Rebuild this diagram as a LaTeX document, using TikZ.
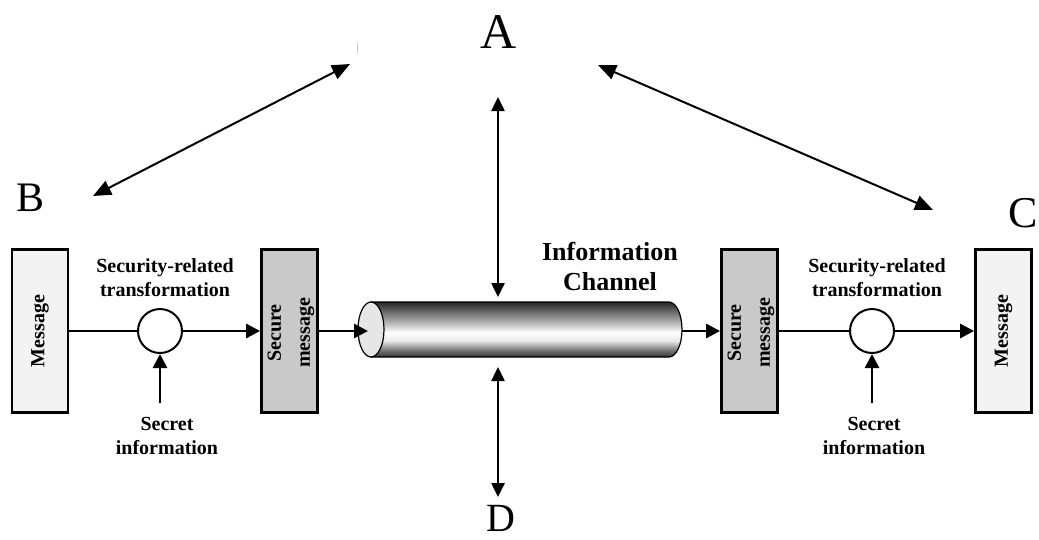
\documentclass[tikz,border=0pt]{standalone}
\usepackage{fontspec}
\setmainfont{Liberation Serif}
\usetikzlibrary{arrows.meta}
\definecolor{msglight}{HTML}{F3F3F3}
\definecolor{securegray}{HTML}{C9C9C9}
\definecolor{pipeface}{HTML}{E6E6E6}
% metallic pipe: stops live between 25bp (bottom) and 75bp (top)
\pgfdeclareverticalshading{pipe}{100bp}{%
  color(0bp)=(black!80); color(25bp)=(black!80); color(31bp)=(black!55);
  color(40bp)=(white!92!black); color(47.5bp)=(white); color(55bp)=(black!25);
  color(65bp)=(black!55); color(75bp)=(black!85); color(100bp)=(black!85)}
\begin{document}
\begin{tikzpicture}[x=1pt,y=-1pt,
  box/.style={draw, line width=2.8pt, minimum width=56pt, minimum height=163pt, inner sep=0},
  lightbox/.style={box, fill=msglight},
  darkbox/.style={box, fill=securegray},
  rot/.style={rotate=90, align=center, inner sep=0, font=\bfseries\fontsize{20}{29}\selectfont},
  op/.style={circle, draw, line width=2pt, minimum size=44pt, inner sep=0, fill=white},
  plain/.style={line width=2.8pt},
  flow/.style={plain, -{Triangle[length=14pt,width=14pt]}},
  caption/.style={align=center, inner sep=0, font=\bfseries\fontsize{20}{24}\selectfont},
  party/.style={inner sep=0, anchor=base},
  link/.style={line width=2pt, {Triangle[length=18pt,width=15pt]}-{Triangle[length=18pt,width=15pt]}},
  tap/.style={line width=2.5pt, {Triangle[length=14pt,width=13pt]}-{Triangle[length=14pt,width=13pt]}}]
\useasboundingbox (0,0) rectangle (1039,539);

% sender side
\node[lightbox] (mL) at (40,331) {};
\node[rot] (mLt) at (mL) {Message};
\node[op] (cL) at (160,331) {};
\node[darkbox] (sL) at (289.5,331) {};
\node[rot] (sLt) at (291,333) {Secure\\message};
\node[caption] (tL) at (165,278) {Security-related\\transformation};
\node[caption] (kL) at (167,436) {Secret\\information};
\coordinate (kLa) at (160,403);

% receiver side
\node[darkbox] (sR) at (749.5,331) {};
\node[rot] (sRt) at (751,333) {Secure\\message};
\node[op] (cR) at (872,331) {};
\node[lightbox] (mR) at (1003.5,331) {};
\node[rot] (mRt) at (mR) {Message};
\node[caption] (tR) at (877,278) {Security-related\\transformation};
\node[caption] (kR) at (874,436) {Secret\\information};
\coordinate (kRa) at (872,403);

% information channel (pipe)
\shade[shading=pipe, draw, line width=1.2pt]
  (371,302) -- (669,302) arc[start angle=-90, end angle=90, x radius=13, y radius=27.5]
  -- (371,357) -- cycle;
\draw[fill=pipeface, line width=1.2pt] (371,329.5) ellipse[x radius=13, y radius=27.5];
\coordinate (pipeIn) at (368,331);
\coordinate (pipeOut) at (682,331);
\node[caption, font=\bfseries\fontsize{26}{30}\selectfont] (ch) at (610,266) {Information\\Channel};

% flows
\draw[plain] (mL.east) -- (cL.west);
\draw[flow] (cL.east) -- (sL.west);
\draw[flow] (kLa) -- (cL.south);
\draw[flow] (sL.east) -- (pipeIn);
\draw[flow] (pipeOut) -- (sR.west);
\draw[plain] (sR.east) -- (cR.west);
\draw[flow] (cR.east) -- (mR.west);
\draw[flow] (kRa) -- (cR.south);

% parties
\node[party, font=\fontsize{50}{50}\selectfont] (A) at (499,48) {A};
\node[party, font=\fontsize{42}{42}\selectfont] (B) at (31,211) {B};
\node[party, anchor=base west, font=\fontsize{44}{44}\selectfont] (C) at (1008,227) {C};
\node[party, font=\fontsize{40}{40}\selectfont] (D) at (501,531) {D};

\coordinate (bEnd) at (93,196);
\coordinate (aLeft) at (350,64);
\coordinate (aRight) at (598,65);
\coordinate (cEnd) at (933,210);
\coordinate (aDown) at (498,97);
\coordinate (pipeTop) at (498,297);
\coordinate (pipeBot) at (498,367);
\coordinate (dUp) at (498,497);

\draw[link] (bEnd) -- (aLeft);
\draw[link] (aRight) -- (cEnd);
\draw[tap] (aDown) -- (pipeTop);
\draw[tap] (pipeBot) -- (dUp);
\draw[gray!45, line width=0.8pt] (357,43) -- (357,53);
\end{tikzpicture}
\end{document}
